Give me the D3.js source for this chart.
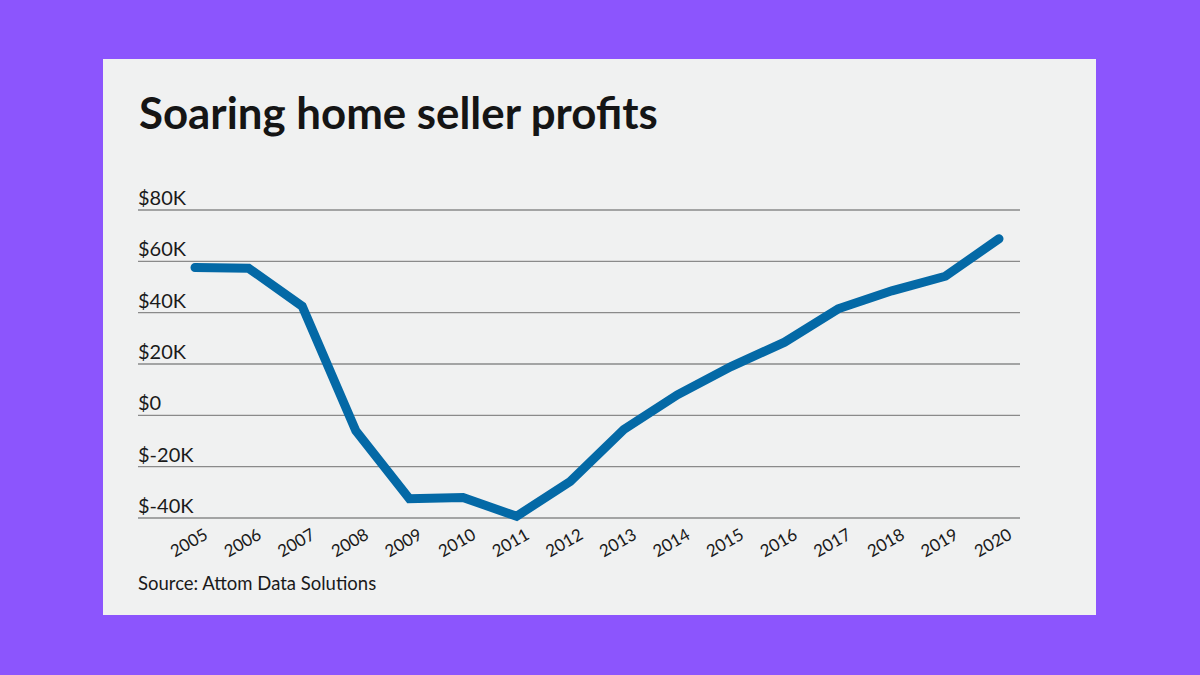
<!DOCTYPE html>
<html>
<head>
<meta charset="utf-8">
<script src="https://cdn.jsdelivr.net/npm/d3@7"></script>
<style>
  body { margin: 0; background: #8c55fd; }
  svg { display: block; }
</style>
</head>
<body>
<svg id="chart"></svg>
<script>
// values, in thousands of dollars
var years = ["2005", "2006", "2007", "2008", "2009", "2010", "2011", "2012",
             "2013", "2014", "2015", "2016", "2017", "2018", "2019", "2020"];
var profits = [57.6, 57.3, 42.5, -6, -32.5, -32, -39.3, -25.8,
               -5.5, 8, 19, 28.5, 41.5, 48.5, 54.2, 68.8];
var yTicks = [-40, -20, 0, 20, 40, 60, 80];

var width = 1200, height = 675;
var svg = d3.select("#chart")
            .attr("width", width)
            .attr("height", height);

svg.append("rect")
   .attr("width", width).attr("height", height)
   .attr("fill", "#8c55fd");

// the light card
svg.append("rect")
   .attr("x", 103).attr("y", 59)
   .attr("width", 993).attr("height", 556)
   .attr("fill", "#f0f1f1");

var font = "Lato, 'Noto Sans', sans-serif";

var title = svg.append("text")
   .attr("x", 139).attr("y", 129)
   .style("font-family", font)
   .style("font-size", "38px")
   .style("font-weight", "bold")
   .attr("fill", "#151515")
   .text("Soaring home seller profits");
// stretch to the width seen in the picture
var tw = title.node().getComputedTextLength();
title.style("font-size", (38 * 519 / tw) + "px");

var x = d3.scalePoint()
          .domain(years)
          .range([195, 999]);

var y = d3.scaleLinear()
          .domain([-40, 80])
          .range([518, 210]);

// gridlines + y labels
var grid = svg.append("g");
grid.selectAll("line")
    .data(yTicks)
    .enter()
    .append("line")
    .attr("x1", 138).attr("x2", 1020)
    .attr("y1", function(d){ return y(d); })
    .attr("y2", function(d){ return y(d); })
    .attr("stroke", "#8a8a8a")
    .attr("stroke-width", 1.4);

grid.selectAll("text")
    .data(yTicks)
    .enter()
    .append("text")
    .attr("x", 138)
    .attr("y", function(d){ return y(d) - 5; })
    .style("font-family", font)
    .style("font-size", "20px")
    .attr("fill", "#1a1a1a")
    .text(function(d){ return d == 0 ? "$0" : "$" + d + "K"; });

// rotated year labels
svg.append("g").selectAll("text")
   .data(years)
   .enter()
   .append("text")
   .attr("transform", function(d){ return "translate(" + (x(d) + 14) + ",538) rotate(-30)"; })
   .attr("text-anchor", "end")
   .style("font-family", font)
   .style("font-size", "17px")
   .attr("fill", "#1a1a1a")
   .text(function(d){ return d; });

var line = d3.line()
             .x(function(d, i){ return x(years[i]); })
             .y(function(d){ return y(d); });

svg.append("path")
   .datum(profits)
   .attr("d", line)
   .attr("fill", "none")
   .attr("stroke", "#0469a6")
   .attr("stroke-width", 9)
   .attr("stroke-linecap", "round")
   .attr("stroke-linejoin", "miter");

svg.append("text")
   .attr("x", 138).attr("y", 590)
   .style("font-family", font)
   .style("font-size", "18.5px")
   .attr("fill", "#1a1a1a")
   .text("Source: Attom Data Solutions");
</script>
</body>
</html>
